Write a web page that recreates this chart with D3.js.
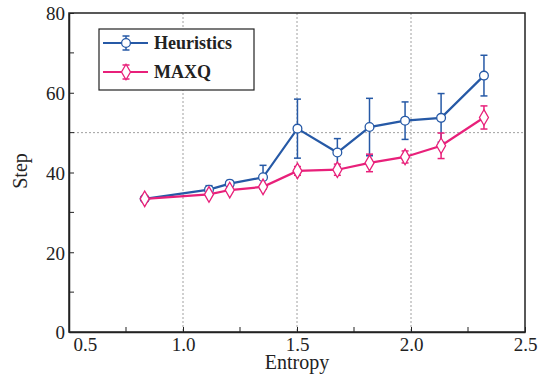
<!DOCTYPE html>
<html>
<head>
<meta charset="utf-8">
<script src="https://cdn.jsdelivr.net/npm/d3@7"></script>
<style>
  body { margin: 0; background: #fff; }
  text { font-family: "Liberation Serif", "Times New Roman", serif; fill: #222; }
</style>
</head>
<body>
<script>
// data
var entropy   = [0.832, 1.114, 1.205, 1.351, 1.502, 1.677, 1.818, 1.974, 2.132, 2.32];
var heurMean  = [33.4, 35.7, 37.2, 38.8, 51.0, 45.0, 51.4, 53.0, 53.7, 64.3];
var heurErr   = [0, 1.0, 0.8, 3.0, 7.4, 3.5, 7.2, 4.7, 6.1, 5.1];
var maxqMean  = [33.4, 34.5, 35.6, 36.4, 40.4, 40.7, 42.4, 43.9, 46.7, 53.8];
var maxqErr   = [0, 0.4, 0.5, 0.5, 1.1, 1.4, 2.2, 1.5, 3.2, 2.9];
var xTicks    = [0.5, 1.0, 1.5, 2.0, 2.5];
var yTicks    = [0, 20, 40, 60, 80];
var seriesNames = ["Heuristics", "MAXQ"];

var margin = { top: 13, right: 19, bottom: 42, left: 69 },
    width = 544 - margin.left - margin.right,
    height = 374 - margin.top - margin.bottom;

var blue = "#2659a6", pink = "#e8207a";

var svg = d3.select("body").append("svg")
    .attr("width", 544)
    .attr("height", 374)
    .append("g")
    .attr("transform", "translate(" + margin.left + "," + margin.top + ")");

var xScale = d3.scaleLinear().domain([0.5, 2.5]).range([0, width]);
var yScale = d3.scaleLinear().domain([0, 80]).range([height, 0]);

// gridlines
svg.append("g").selectAll("line")
    .data([1.0, 1.5, 2.0])
    .enter().append("line")
    .attr("x1", function (d) { return xScale(d); })
    .attr("x2", function (d) { return xScale(d); })
    .attr("y1", 0).attr("y2", height)
    .attr("stroke", "#888").attr("stroke-width", 0.8)
    .attr("stroke-dasharray", "2,2");

svg.append("line")
    .attr("x1", 0).attr("x2", width)
    .attr("y1", yScale(50)).attr("y2", yScale(50))
    .attr("stroke", "#888").attr("stroke-width", 0.8)
    .attr("stroke-dasharray", "2,2");

// frame
svg.append("rect")
    .attr("width", width).attr("height", height)
    .attr("fill", "none").attr("stroke", "#222").attr("stroke-width", 1.5);

// x axis, ticks inside
var xAxis = d3.axisBottom(xScale).tickValues(xTicks).tickFormat(d3.format(".1f"))
    .tickSizeInner(-5).tickSizeOuter(0).tickPadding(6);
var gx = svg.append("g")
    .attr("transform", "translate(0," + height + ")")
    .call(xAxis);
gx.append("g").selectAll("line")
    .data([0.75, 1.25, 1.75, 2.25])
    .enter().append("line")
    .attr("x1", function (d) { return xScale(d); })
    .attr("x2", function (d) { return xScale(d); })
    .attr("y1", 0).attr("y2", -5)
    .attr("stroke", "#222");
// first label sits to the right of its tick
gx.selectAll(".tick text").filter(function (d) { return d === 0.5; })
    .attr("text-anchor", "start").attr("x", 4);

var yAxis = d3.axisLeft(yScale).tickValues(yTicks)
    .tickSizeInner(-5).tickSizeOuter(0).tickPadding(4);
var gy = svg.append("g").call(yAxis);
gy.append("g").selectAll("line")
    .data([10, 30, 50, 70])
    .enter().append("line")
    .attr("y1", function (d) { return yScale(d); })
    .attr("y2", function (d) { return yScale(d); })
    .attr("x1", 0).attr("x2", 5)
    .attr("stroke", "#222");

svg.selectAll(".domain").attr("stroke", "#222").attr("stroke-width", 1.5);
svg.selectAll(".tick line").attr("stroke", "#222");
svg.selectAll(".tick text")
    .style("font-family", "'Liberation Serif', serif")
    .style("font-size", "19px").attr("fill", "#222");
gy.selectAll(".tick text").attr("dy", "0.36em");

// axis titles
svg.append("text")
    .attr("x", width / 2).attr("y", height + 37)
    .attr("text-anchor", "middle")
    .style("font-size", "20px")
    .text("Entropy");

svg.append("text")
    .attr("transform", "rotate(-90)")
    .attr("x", -(171 - margin.top)).attr("y", -margin.left + 27)
    .attr("text-anchor", "middle")
    .style("font-size", "20px")
    .text("Step");

function drawSeries(means, errs, color, shape) {
    var pts = entropy.map(function (x, i) { return { x: x, y: means[i], e: errs[i] }; });
    var g = svg.append("g");

    // error bars (skip the ones too small to see)
    var eb = g.selectAll(".eb").data(pts.filter(function (d) { return d.e > 0; }))
        .enter().append("g")
        .attr("stroke", color).attr("stroke-width", 1.5);
    eb.append("line")
        .attr("x1", function (d) { return xScale(d.x); })
        .attr("x2", function (d) { return xScale(d.x); })
        .attr("y1", function (d) { return yScale(d.y - d.e); })
        .attr("y2", function (d) { return yScale(d.y + d.e); });
    [-1, 1].forEach(function (s) {
        eb.append("line")
            .attr("x1", function (d) { return xScale(d.x) - 3.5; })
            .attr("x2", function (d) { return xScale(d.x) + 3.5; })
            .attr("y1", function (d) { return yScale(d.y + s * d.e); })
            .attr("y2", function (d) { return yScale(d.y + s * d.e); });
    });

    var line = d3.line().x(function (d) { return xScale(d.x); }).y(function (d) { return yScale(d.y); });
    g.append("path").datum(pts)
        .attr("d", line)
        .attr("fill", "none").attr("stroke", color).attr("stroke-width", 2.2);

    var sym = shape === "circle"
        ? d3.symbol().type(d3.symbolCircle).size(60)
        : d3.symbol().type(d3.symbolDiamond).size(70);
    g.selectAll(".pt").data(pts).enter().append("path")
        .attr("transform", function (d) { return "translate(" + xScale(d.x) + "," + yScale(d.y) + ")"; })
        .attr("d", sym)
        .attr("fill", "#fff").attr("stroke", color).attr("stroke-width", 1.3);
}

drawSeries(heurMean, heurErr, blue, "circle");
drawSeries(maxqMean, maxqErr, pink, "diamond");

// legend
var leg = svg.append("g").attr("transform", "translate(" + (99 - margin.left) + "," + (29 - margin.top) + ")");
leg.append("rect")
    .attr("width", 155).attr("height", 61)
    .attr("fill", "#fff").attr("stroke", "#222").attr("stroke-width", 1.2);

[[blue, "circle"], [pink, "diamond"]].forEach(function (s, i) {
    var yy = 14 + i * 29;
    var item = leg.append("g").attr("transform", "translate(0," + yy + ")");
    item.append("line").attr("x1", 4).attr("x2", 49).attr("y1", 0).attr("y2", 0)
        .attr("stroke", s[0]).attr("stroke-width", 2.2);
    item.append("line").attr("x1", 27).attr("x2", 27).attr("y1", -7).attr("y2", 7)
        .attr("stroke", s[0]).attr("stroke-width", 1.5);
    item.append("line").attr("x1", 23.5).attr("x2", 30.5).attr("y1", -7).attr("y2", -7)
        .attr("stroke", s[0]).attr("stroke-width", 1.5);
    item.append("line").attr("x1", 23.5).attr("x2", 30.5).attr("y1", 7).attr("y2", 7)
        .attr("stroke", s[0]).attr("stroke-width", 1.5);
    item.append("path")
        .attr("transform", "translate(27,0)")
        .attr("d", d3.symbol().type(s[1] === "circle" ? d3.symbolCircle : d3.symbolDiamond).size(s[1] === "circle" ? 60 : 70))
        .attr("fill", "#fff").attr("stroke", s[0]).attr("stroke-width", 1.3);
    item.append("text")
        .attr("x", 55).attr("y", 0).attr("dy", "0.35em")
        .style("font-size", "18px").style("font-weight", "bold")
        .text(seriesNames[i]);
});
</script>
</body>
</html>
